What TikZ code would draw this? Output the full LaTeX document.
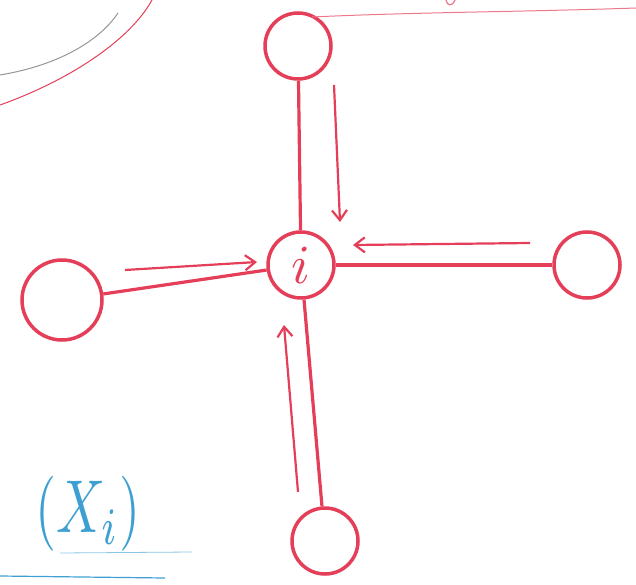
\documentclass[tikz,border=0pt]{standalone}
\usepackage{tikz}
\usetikzlibrary{positioning, arrows.meta}

\definecolor{penred}{RGB}{228,62,88}
\definecolor{penblue}{RGB}{62,160,210}
\definecolor{pengrey}{RGB}{150,150,150}

\begin{document}
\begin{tikzpicture}[
  x=1pt, y=-1pt,
  vertex/.style={circle, draw=penred, line width=3.5pt, minimum size=66pt, inner sep=0pt},
  edge/.style={draw=penred, line width=3.2pt},
  flow/.style={-{Straight Barb[length=10pt, width=15pt]}, draw=penred, line width=2.2pt}
]
  \useasboundingbox (0,0) rectangle (636,585);
  \clip (0,0) rectangle (636,585);

  % the five vertices
  \node[vertex] (ni) at (301,265) {};
  \node[text=penred, scale=5.5] (nilabel) at (ni) {$i$};
  \node[vertex] (top) at (298,46) {};
  \node[vertex, minimum size=80pt] (left) at (62,300) {};
  \node[vertex] (right) at (587,265) {};
  \node[vertex] (bottom) at (325,541) {};

  \draw[edge] (top) -- (ni);
  \draw[edge] (left) -- (ni);
  \draw[edge] (right) -- (ni);
  \draw[edge] (bottom) -- (ni);

  % messages into i
  \coordinate (t1) at (334,85);
  \coordinate (t2) at (340,222);
  \coordinate (l1) at (125,270);
  \coordinate (l2) at (257,262);
  \coordinate (r1) at (530,243);
  \coordinate (r2) at (353,245);
  \coordinate (b1) at (298,492);
  \coordinate (b2) at (284,325);
  \draw[flow] (t1) -- (t2);
  \draw[flow] (l1) -- (l2);
  \draw[flow] (r1) -- (r2);
  \draw[flow] (b1) -- (b2);

  % leftovers of the page
  \draw[pengrey, line width=1pt] (0,75) .. controls (60,65) and (100,40) .. (118,13);
  \draw[penred, line width=1pt] (0,105) .. controls (70,80) and (130,40) .. (152,0);
  \draw[penred!70, line width=1pt] (312,17) .. controls (420,12) and (520,12) .. (636,8);
  \draw[penred!70, line width=1.2pt] (446,0) .. controls (447,6) and (452,7) .. (455,0);

  \node[text=penblue, xscale=5.4, yscale=7.5, inner sep=0pt] (fx) at (88,514) {$(X_i)$};
  \draw[penblue!60, line width=0.8pt] (60,553) -- (192,552);
  \draw[penblue, line width=1.2pt] (0,576) -- (165,578);
\end{tikzpicture}
\end{document}
